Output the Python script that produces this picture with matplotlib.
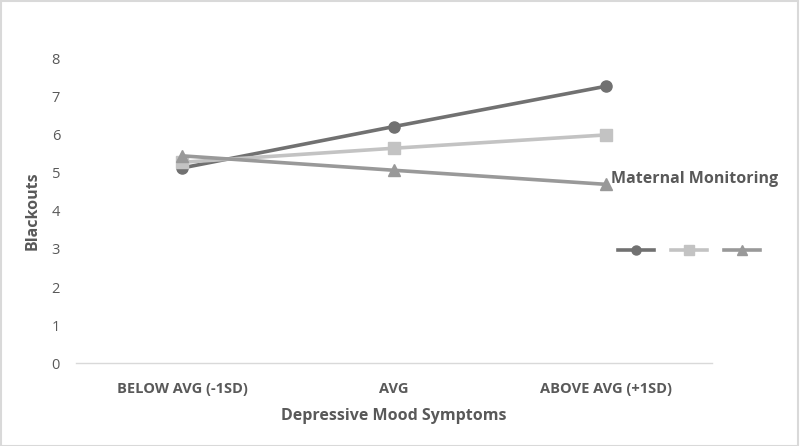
import matplotlib.pyplot as plt
import matplotlib.patches as mpatches
from matplotlib.lines import Line2D

plt.rcParams["font.family"] = ["Open Sans", "DejaVu Sans"]

# data
categories = ["BELOW AVG (-1SD)", "AVG", "ABOVE AVG (+1SD)"]
low_mon = [5.13, 6.22, 7.28]     # circles
mid_mon = [5.28, 5.65, 6.00]     # squares
high_mon = [5.45, 5.07, 4.70]    # triangles

series = [
    (low_mon, "#717171", "o", 8),
    (mid_mon, "#c3c3c3", "s", 8),
    (high_mon, "#999999", "^", 9),
]

TXT = "#595959"

fig = plt.figure(figsize=(8, 4.46), dpi=100)
fig.patch.set_facecolor("white")
ax = fig.add_axes([0.095, 0.186, 0.795, 0.682])

x = range(len(categories))
handles = []
for vals, col, mk, ms in series:
    ax.plot(x, vals, color=col, marker=mk, markersize=ms, linewidth=2.6,
            markeredgecolor=col, zorder=3)
    handles.append(Line2D([0], [0], color=col, marker=mk, markersize=ms - 1.5,
                          linewidth=2.6, markeredgecolor=col))

ax.set_xlim(-0.5, 2.5)
ax.set_ylim(0, 8)
ax.set_yticks(range(0, 9))
ax.set_xticks(list(x))
ax.set_xticklabels(categories, fontweight="bold")
ax.tick_params(axis="both", length=0, colors=TXT, labelsize=10.5)
ax.tick_params(axis="x", pad=14)
ax.tick_params(axis="y", pad=11.5)
for s in ["top", "right", "left"]:
    ax.spines[s].set_visible(False)
ax.spines["bottom"].set_color("#d9d9d9")
ax.spines["bottom"].set_linewidth(1)

ax.set_xlabel("Depressive Mood Symptoms", fontsize=11.5, fontweight="bold",
              color=TXT, labelpad=8)
ax.set_ylabel("Blackouts", fontsize=11.5, fontweight="bold", color=TXT,
              labelpad=8)

fig.text(0.764, 0.598, "Maternal Monitoring", fontsize=11.5,
         fontweight="bold", color=TXT, ha="left", va="center")

fig.legend(handles=handles, labels=["", "", ""], ncol=3, frameon=False,
           loc="center left", bbox_to_anchor=(0.764, 0.437),
           handlelength=2.6, handletextpad=0.0, columnspacing=1.2,
           borderpad=0)

fig.add_artist(mpatches.Rectangle((0.001, 0.001), 0.997, 0.997,
                                  transform=fig.transFigure, fill=False,
                                  edgecolor="#d9d9d9", linewidth=1.5))

fig.savefig("out.png", dpi=100, facecolor="white")
